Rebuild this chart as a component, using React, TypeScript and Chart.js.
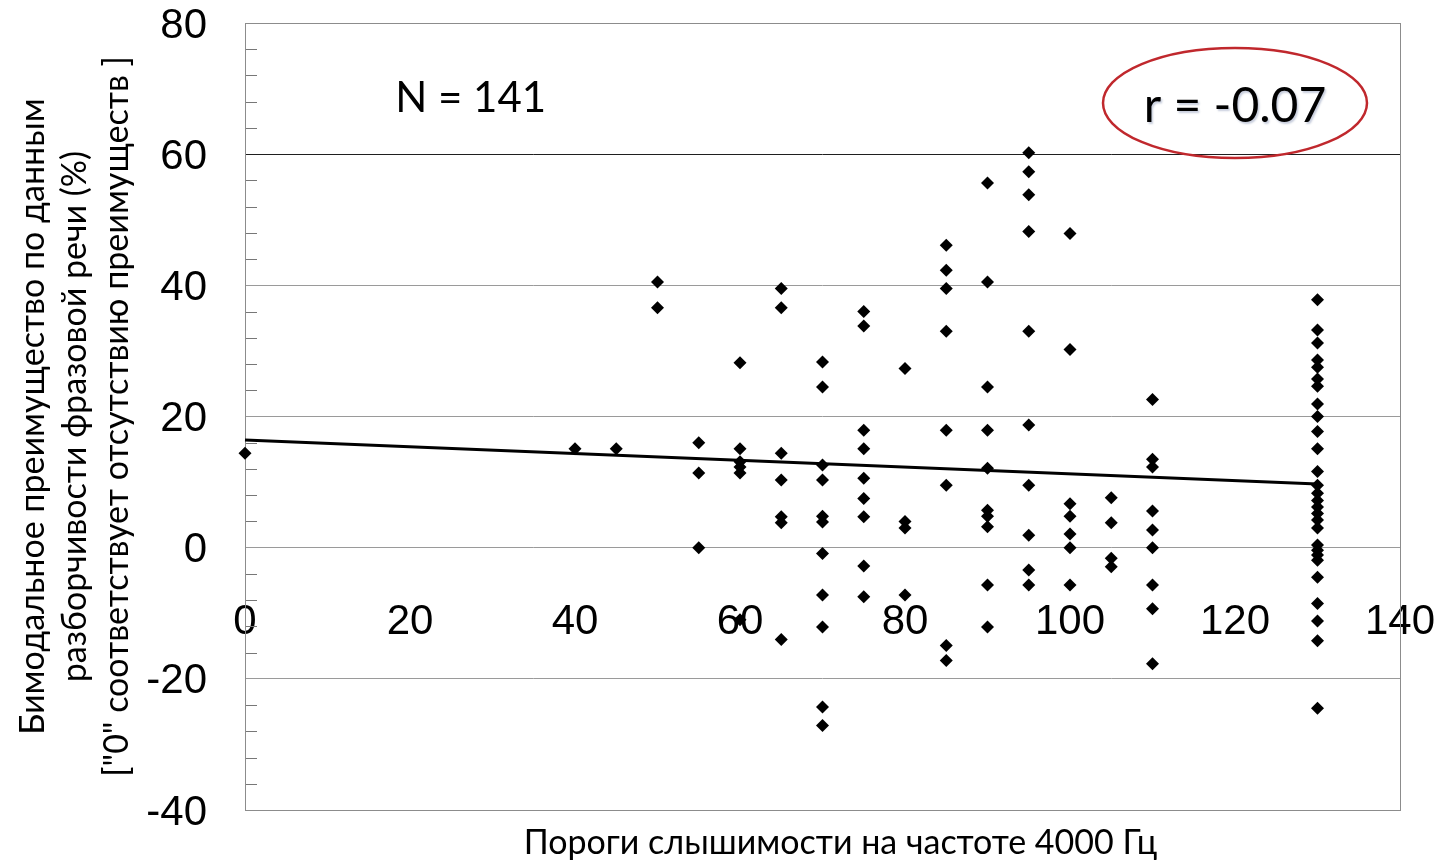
import React, { useEffect, useRef } from 'react';
import { Chart, registerables } from 'chart.js';

Chart.register(...registerables);

// Hearing thresholds at 4000 Hz (x) and the bimodal benefit values (y) read for each threshold
const thresholds = [0, 40, 45, 50, 55, 60, 65, 70, 75, 80, 85, 90, 95, 100, 105, 110, 130];
const benefitColumns: number[][] = [
  [14.4],
  [15.1],
  [15.1],
  [40.5, 36.6],
  [16.0, 11.4, 0],
  [28.2, 15.1, 13.1, 12.3, 11.4, -11.0],
  [39.5, 36.6, 14.4, 10.3, 4.7, 3.8, -14.0],
  [28.3, 24.5, 12.6, 10.3, 4.8, 3.9, -0.9, -7.2, -12.1, -24.3, -27.1],
  [36.0, 33.8, 17.9, 15.1, 10.6, 7.5, 4.7, -2.8, -7.5],
  [27.3, 4.0, 3.0, -7.2],
  [46.1, 42.3, 39.5, 33.0, 17.9, 9.5, -14.9, -17.2],
  [55.6, 40.5, 24.5, 17.9, 12.1, 5.7, 4.8, 3.2, -5.7, -12.1],
  [60.2, 57.3, 53.8, 48.2, 33.0, 18.7, 9.5, 1.9, -3.4, -5.7],
  [47.9, 30.2, 6.7, 4.8, 2.1, 0, -5.7],
  [7.6, 3.8, -1.6, -2.9],
  [22.6, 13.5, 12.3, 5.6, 2.7, 0, -5.7, -9.3, -17.7],
  [37.8, 33.2, 31.2, 28.6, 27.5, 25.7, 24.6, 21.9, 20.0, 17.7, 15.1, 11.6, 9.5, 8.3, 7.2, 6.2, 5.2, 4.2, 3.0, 0.4, -0.4, -1.1, -1.9, -4.5, -8.5, -11.2, -14.2, -24.5],
];

// Linear trend line end points
const trendX = [0, 130];
const trendY = [16.4, 9.7];

// Axis ranges and tick steps
const xRange = [0, 140];
const yRange = [-40, 80];
const xStep = 20;
const yStep = 20;
const yMinorStep = 4;

// Texts
const xAxisTitle = 'Пороги слышимости на частоте 4000 Гц';
const yAxisTitle = [
  'Бимодальное преимущество по данным',
  'разборчивости фразовой речи (%)',
  '["0" соответствует отсутствию преимуществ ]',
];
const nLabel = 'N = 141';
const rLabel = 'r = -0.07';

// Annotation anchors in data units
const nLabelAnchor = { x: 18.2, y: 66.4 };
const rLabelAnchor = { x: 120, y: 64.9 };
const ellipseAnchor = { x: 120, y: 67.8, rx: 16, ry: 8.4 };

const CAL = 'Lato, "Open Sans", sans-serif';
const ARIAL = '"Liberation Sans", Arial, sans-serif';

const decorPlugin = {
  id: 'decor',
  beforeDatasetsDraw(chart: any) {
    const { ctx, chartArea: a, scales } = chart;
    const y = scales.y;
    ctx.save();
    ctx.lineWidth = 1;
    ctx.strokeStyle = '#777777';
    for (let v = yRange[0]; v <= yRange[1]; v += yMinorStep) {
      if (v % yStep === 0) continue;
      const py = Math.round(y.getPixelForValue(v)) + 0.5;
      ctx.beginPath();
      ctx.moveTo(a.left, py);
      ctx.lineTo(a.left + 12, py);
      ctx.stroke();
    }
    ctx.strokeStyle = '#8c8c8c';
    ctx.strokeRect(Math.round(a.left) + 0.5, Math.round(a.top) + 0.5, Math.round(a.right - a.left), Math.round(a.bottom - a.top));
    ctx.restore();
  },
  afterDatasetsDraw(chart: any) {
    const { ctx, chartArea: a, scales } = chart;
    const x = scales.x;
    const y = scales.y;
    ctx.save();
    // N label
    ctx.fillStyle = '#000';
    ctx.font = `42px ${CAL}`;
    ctx.textAlign = 'left';
    ctx.textBaseline = 'alphabetic';
    ctx.fillText(nLabel, x.getPixelForValue(nLabelAnchor.x), y.getPixelForValue(nLabelAnchor.y));
    // r label with soft shadow
    ctx.font = `48px ${CAL}`;
    ctx.textAlign = 'center';
    ctx.shadowColor = 'rgba(70,90,140,0.3)';
    ctx.shadowOffsetX = 1.5;
    ctx.shadowOffsetY = 1.5;
    ctx.shadowBlur = 2;
    ctx.fillText(rLabel, x.getPixelForValue(rLabelAnchor.x), y.getPixelForValue(rLabelAnchor.y));
    ctx.shadowColor = 'transparent';
    // red ellipse
    const cx = x.getPixelForValue(ellipseAnchor.x);
    const cy = y.getPixelForValue(ellipseAnchor.y);
    const rx = Math.abs(x.getPixelForValue(ellipseAnchor.x + ellipseAnchor.rx) - cx);
    const ry = Math.abs(y.getPixelForValue(ellipseAnchor.y + ellipseAnchor.ry) - cy);
    ctx.beginPath();
    ctx.ellipse(cx, cy, rx, ry, 0, 0, Math.PI * 2);
    ctx.strokeStyle = '#c0282d';
    ctx.lineWidth = 2.5;
    ctx.stroke();
    // x axis title
    ctx.font = `34px ${CAL}`;
    ctx.fillStyle = '#000';
    ctx.textAlign = 'center';
    ctx.textBaseline = 'middle';
    ctx.fillText(xAxisTitle, (a.left + a.right) / 2 + 18, a.bottom + 33);
    ctx.restore();
  },
};

export default function App() {
  const canvasRef = useRef<HTMLCanvasElement | null>(null);

  useEffect(() => {
    if (!canvasRef.current) return;
    const points: { x: number; y: number }[] = [];
    thresholds.forEach((t, i) => {
      benefitColumns[i].forEach((v) => points.push({ x: t, y: v }));
    });
    const trend = trendX.map((t, i) => ({ x: t, y: trendY[i] }));

    const chart = new Chart(canvasRef.current, {
      type: 'scatter',
      data: {
        datasets: [
          {
            type: 'line',
            label: 'trend',
            data: trend,
            borderColor: '#000',
            borderWidth: 3,
            pointRadius: 0,
            fill: false,
            order: 0,
            clip: false,
          } as any,
          {
            label: 'points',
            data: points,
            pointStyle: 'rectRot',
            pointRadius: 6.5,
            pointBackgroundColor: '#000',
            pointBorderColor: '#000',
            pointBorderWidth: 0,
            order: 1,
            clip: false,
          } as any,
        ],
      },
      options: {
        animation: false,
        responsive: true,
        maintainAspectRatio: false,
        layout: { padding: { top: 23, right: 42, bottom: 52, left: 0 } },
        plugins: {
          legend: { display: false },
          tooltip: { enabled: false },
          title: { display: false },
        },
        scales: {
          x: {
            type: 'linear',
            position: { y: -7.5 } as any,
            min: xRange[0],
            max: xRange[1],
            grid: { display: false, drawTicks: false },
            border: { display: false },
            ticks: {
              stepSize: xStep,
              padding: 0,
              color: '#000',
              font: { family: ARIAL, size: 42 },
            },
            afterFit: (s: any) => {
              s.paddingLeft = 0;
              s.paddingRight = 0;
            },
          },
          y: {
            type: 'linear',
            min: yRange[0],
            max: yRange[1],
            grid: {
              drawTicks: false,
              color: (c: any) => (c.tick && c.tick.value === 60 ? '#1f1f1f' : '#9a9a9a'),
              lineWidth: 1,
            },
            border: { display: false },
            ticks: {
              stepSize: yStep,
              padding: 38,
              labelOffset: 3,
              color: '#000',
              font: { family: ARIAL, size: 42, lineHeight: 1 },
            },
            title: {
              display: true,
              text: yAxisTitle,
              color: '#000',
              font: { family: CAL, size: 34, lineHeight: 1.235 },
              padding: { top: 12, bottom: 0 },
            },
            afterFit: (s: any) => {
              s.width = 245;
              s.paddingTop = 0;
              s.paddingBottom = 0;
            },
          },
        },
      },
      plugins: [decorPlugin],
    });
    return () => chart.destroy();
  }, []);

  return (
    <div style={{ position: 'fixed', left: 0, top: 0, width: 1442, height: 862, background: '#fff' }}>
      <canvas ref={canvasRef} />
    </div>
  );
}
